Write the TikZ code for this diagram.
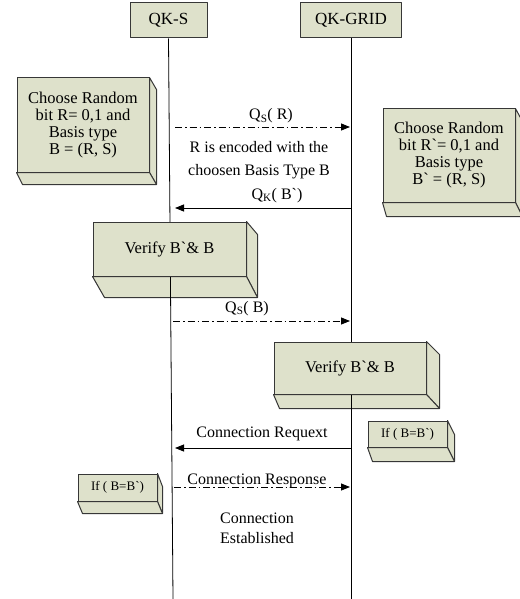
\documentclass[tikz,border=0pt]{standalone}
\usepackage{fontspec}
\setmainfont{Liberation Serif}
\usetikzlibrary{arrows.meta,calc,backgrounds}
\definecolor{boxfill}{RGB}{222,225,203}
\definecolor{boxline}{RGB}{55,55,55}
% #1 node, #2 dx, #3 dy top-right, #4 dx bottom-left, #5 dy bottom
\newcommand\boxsides[5]{%
  \filldraw[face] (#1.north east) -- ++(#2,#3) -- ($(#1.south east)+(#2,#5)$) -- (#1.south east) -- cycle;
  \filldraw[face] (#1.south west) -- (#1.south east) -- ($(#1.south east)+(#2,#5)$) -- ($(#1.south west)+(#4,#5)$) -- cycle;}
\begin{document}
\begin{tikzpicture}[x=1pt,y=-1pt,
  face/.style={fill=boxfill,draw=boxline,line width=1pt,line join=round},
  front/.style={face,inner sep=0pt,align=center,font=\fontsize{16.5}{17}\selectfont},
  small/.style={face,inner sep=0pt,align=center,font=\fontsize{13}{14}\selectfont},
  head/.style={face,inner sep=0pt,font=\fontsize{17}{18}\selectfont},
  lbl/.style={anchor=base,inner sep=0pt,font=\fontsize{16}{20}\selectfont},
  life/.style={line width=0.8pt,black},
  msg/.style={line width=0.8pt,-{Triangle[length=9pt,width=7pt]}},
  reply/.style={msg,dash pattern=on 7pt off 3pt on 1.5pt off 3pt}]
\useasboundingbox (0,0) rectangle (519,599);
% headers
\node[head,minimum width=77pt,minimum height=35pt] (hs) at (168.5,20.5) {QK-S};
\node[head,minimum width=101pt,minimum height=35pt] (hg) at (351,20.5) {QK-GRID};
\coordinate (sEnd) at (173,599);
\coordinate (gEnd) at (351,599);
% 3D boxes (front faces)
\node[front,minimum width=132pt,minimum height=94pt] (c1) at (83,125)
  {Choose Random\\bit R= 0,1 and\\Basis type\\B = (R, S)};
\node[front,minimum width=132pt,minimum height=93pt] (c2) at (449,155.5)
  {Choose Random\\bit R\textasciigrave= 0,1 and\\Basis type\\B\textasciigrave{} = (R, S)};
\node[front,minimum width=153pt,minimum height=54pt] (v1) at (169.5,249) {Verify B\textasciigrave\& B};
\node[front,minimum width=152pt,minimum height=52pt] (v2) at (350,368) {Verify B\textasciigrave\& B};
\node[small,minimum width=79pt,minimum height=26pt] (i1) at (407.5,434) {If ( B=B\textasciigrave)};
\node[small,minimum width=79pt,minimum height=27pt] (i2) at (117.5,487.5) {If ( B=B\textasciigrave)};
\begin{pgfonlayer}{background}
  \boxsides{c1}{7}{12}{6}{12}
  \boxsides{c2}{7}{13}{4}{14}
  \boxsides{v1}{11}{13}{12}{21}
  \boxsides{v2}{13}{13}{6}{14}
  \boxsides{i1}{7}{14}{5}{14}
  \boxsides{i2}{5}{13}{5}{12}
  \draw[life] (hs.south) -- (sEnd);
  \draw[life] (hg.south) -- (gEnd);
\end{pgfonlayer}
% message end points
\coordinate (m1s) at (175,127); \coordinate (m1g) at (350,127);
\coordinate (m2s) at (175,208); \coordinate (m2g) at (351,208);
\coordinate (m3s) at (173,321); \coordinate (m3g) at (350,321);
\coordinate (m4s) at (175,448); \coordinate (m4g) at (351,448);
\coordinate (m5s) at (174,487); \coordinate (m5g) at (350,487);
\draw[reply] (m1s) -- (m1g);
\draw[msg] (m2g) -- (m2s);
\draw[reply] (m3s) -- (m3g);
\draw[msg] (m4g) -- (m4s);
\draw[reply] (m5s) -- (m5g);
% labels
\node[lbl] (l1) at (271,120) {Q\textsubscript{S}( R)};
\node[lbl] (l2) at (259,152) {R is encoded with the};
\node[lbl] (l3) at (259,175) {choosen Basis Type B};
\node[lbl] (l4) at (277,199) {Q\textsubscript{K}( B\textasciigrave)};
\node[lbl] (l5) at (247,312) {Q\textsubscript{S}( B)};
\node[lbl] (l6) at (262,437) {Connection Requext};
\node[lbl] (l7) at (257,484) {Connection Response};
\node[lbl,align=center] (l8) at (257,543) {Connection\\Established};
\end{tikzpicture}
\end{document}
